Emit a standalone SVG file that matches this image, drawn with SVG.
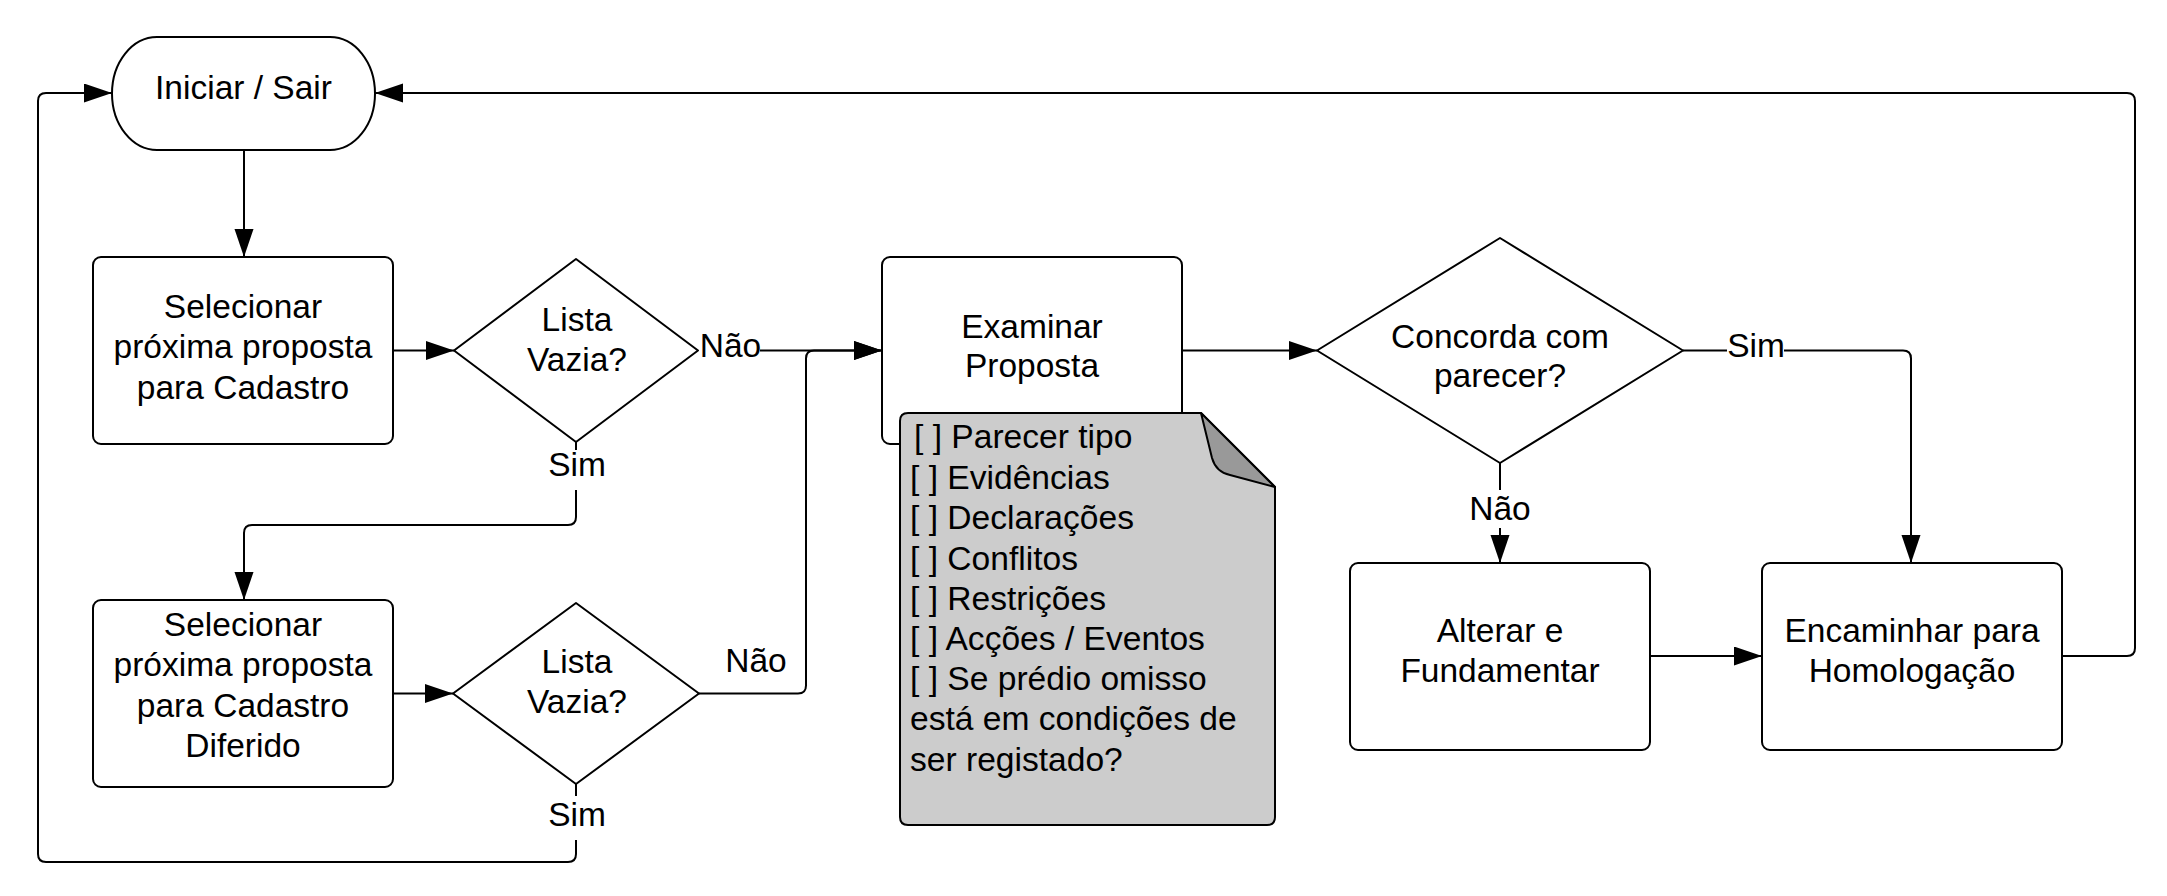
<svg xmlns="http://www.w3.org/2000/svg" width="2167" height="896" viewBox="0 0 2167 896">
<defs>
<marker id="arr" markerUnits="userSpaceOnUse" markerWidth="30" markerHeight="20" refX="28" refY="9.5" orient="auto">
<path d="M0,0 L28,9.5 L0,19 Z" fill="#000"/>
</marker>
<style>
.shape{fill:#fff;stroke:#000;stroke-width:2;stroke-linejoin:round}
.conn{fill:none;stroke:#000;stroke-width:2}
.t{font-family:"Liberation Sans",Arial,sans-serif;font-size:33.5px;fill:#000;text-anchor:middle}
.nt{font-family:"Liberation Sans",Arial,sans-serif;font-size:33.6px;fill:#000}
</style>
</defs>
<rect width="2167" height="896" fill="#fff"/>

<g id="connectors">
<path class="conn" d="M244,150 V257" marker-end="url(#arr)"/>
<path class="conn" d="M393,350.5 H454" marker-end="url(#arr)"/>
<path class="conn" d="M760,350.5 H882" marker-end="url(#arr)"/>
<path class="conn" d="M576,442 V450"/>
<path class="conn" d="M576,490 V517 Q576,525 568,525 H252 Q244,525 244,533 V600" marker-end="url(#arr)"/>
<path class="conn" d="M393,693.5 H453" marker-end="url(#arr)"/>
<path class="conn" d="M699,693.5 H798 Q806,693.5 806,685.5 V358.5 Q806,350.5 814,350.5 H882" marker-end="url(#arr)"/>
<path class="conn" d="M576,784 V796"/>
<path class="conn" d="M576,840 V854 Q576,862 568,862 H46 Q38,862 38,854 V101 Q38,93 46,93 H112" marker-end="url(#arr)"/>
<path class="conn" d="M1182,350.5 H1317" marker-end="url(#arr)"/>
<path class="conn" d="M1683,350.5 H1727"/>
<path class="conn" d="M1784,350.5 H1903 Q1911,350.5 1911,358.5 V563" marker-end="url(#arr)"/>
<path class="conn" d="M1500,463 V490"/>
<path class="conn" d="M1500,528 V563" marker-end="url(#arr)"/>
<path class="conn" d="M1650,656 H1762" marker-end="url(#arr)"/>
<path class="conn" d="M2062,656 H2127 Q2135,656 2135,648 V101 Q2135,93 2127,93 H375" marker-end="url(#arr)"/>
<text class="t" x="730.5" y="357">Não</text>
<text class="t" x="577" y="476">Sim</text>
<text class="t" x="756" y="672">Não</text>
<text class="t" x="577" y="826">Sim</text>
<text class="t" x="1756" y="357">Sim</text>
<text class="t" x="1500" y="520">Não</text>
</g>

<g id="start">
<rect class="shape" x="112" y="37" width="263" height="113" rx="45" ry="56.5"/>
<text class="t" x="243.5" y="99">Iniciar / Sair</text>
</g>

<g id="select1">
<rect class="shape" x="93" y="257" width="300" height="187" rx="8"/>
<text class="t" x="243" y="318">Selecionar</text>
<text class="t" x="243" y="358">próxima proposta</text>
<text class="t" x="243" y="399">para Cadastro</text>
</g>

<g id="decision1">
<polygon class="shape" points="454,350.5 576,259 698,350.5 576,442"/>
<text class="t" x="577" y="331">Lista</text>
<text class="t" x="577" y="371">Vazia?</text>
</g>

<g id="select2">
<rect class="shape" x="93" y="600" width="300" height="187" rx="8"/>
<text class="t" x="243" y="636">Selecionar</text>
<text class="t" x="243" y="676">próxima proposta</text>
<text class="t" x="243" y="717">para Cadastro</text>
<text class="t" x="243" y="757">Diferido</text>
</g>

<g id="decision2">
<polygon class="shape" points="453,693.5 576,603 699,693.5 576,784"/>
<text class="t" x="577" y="673">Lista</text>
<text class="t" x="577" y="713">Vazia?</text>
</g>

<g id="examine">
<rect class="shape" x="882" y="257" width="300" height="187" rx="8"/>
<text class="t" x="1032" y="338">Examinar</text>
<text class="t" x="1032" y="377">Proposta</text>
</g>

<g id="note">
<path d="M908,413 H1201 L1275,487 V817 Q1275,825 1267,825 H908 Q900,825 900,817 V421 Q900,413 908,413 Z" fill="#cccccc" stroke="#000" stroke-width="2" stroke-linejoin="round"/>
<path d="M1201,413 L1212,458 Q1216,472 1230,475 L1275,487 Z" fill="#999999" stroke="#000" stroke-width="2" stroke-linejoin="round"/>
<text class="nt" x="914" y="448">[ ] Parecer tipo</text>
<text class="nt" x="910" y="489">[ ] Evidências</text>
<text class="nt" x="910" y="529">[ ] Declarações</text>
<text class="nt" x="910" y="570">[ ] Conflitos</text>
<text class="nt" x="910" y="610">[ ] Restrições</text>
<text class="nt" x="910" y="650">[ ] Acções / Eventos</text>
<text class="nt" x="910" y="690">[ ] Se prédio omisso</text>
<text class="nt" x="910" y="730">está em condições de</text>
<text class="nt" x="910" y="771">ser registado?</text>
</g>

<g id="decision3">
<polygon class="shape" points="1317,350.5 1500,238 1683,350.5 1500,463"/>
<text class="t" x="1500" y="348">Concorda com</text>
<text class="t" x="1500" y="387">parecer?</text>
</g>

<g id="alter">
<rect class="shape" x="1350" y="563" width="300" height="187" rx="8"/>
<text class="t" x="1500" y="642">Alterar e</text>
<text class="t" x="1500" y="682">Fundamentar</text>
</g>

<g id="forward">
<rect class="shape" x="1762" y="563" width="300" height="187" rx="8"/>
<text class="t" x="1912" y="642">Encaminhar para</text>
<text class="t" x="1912" y="682">Homologação</text>
</g>
</svg>
